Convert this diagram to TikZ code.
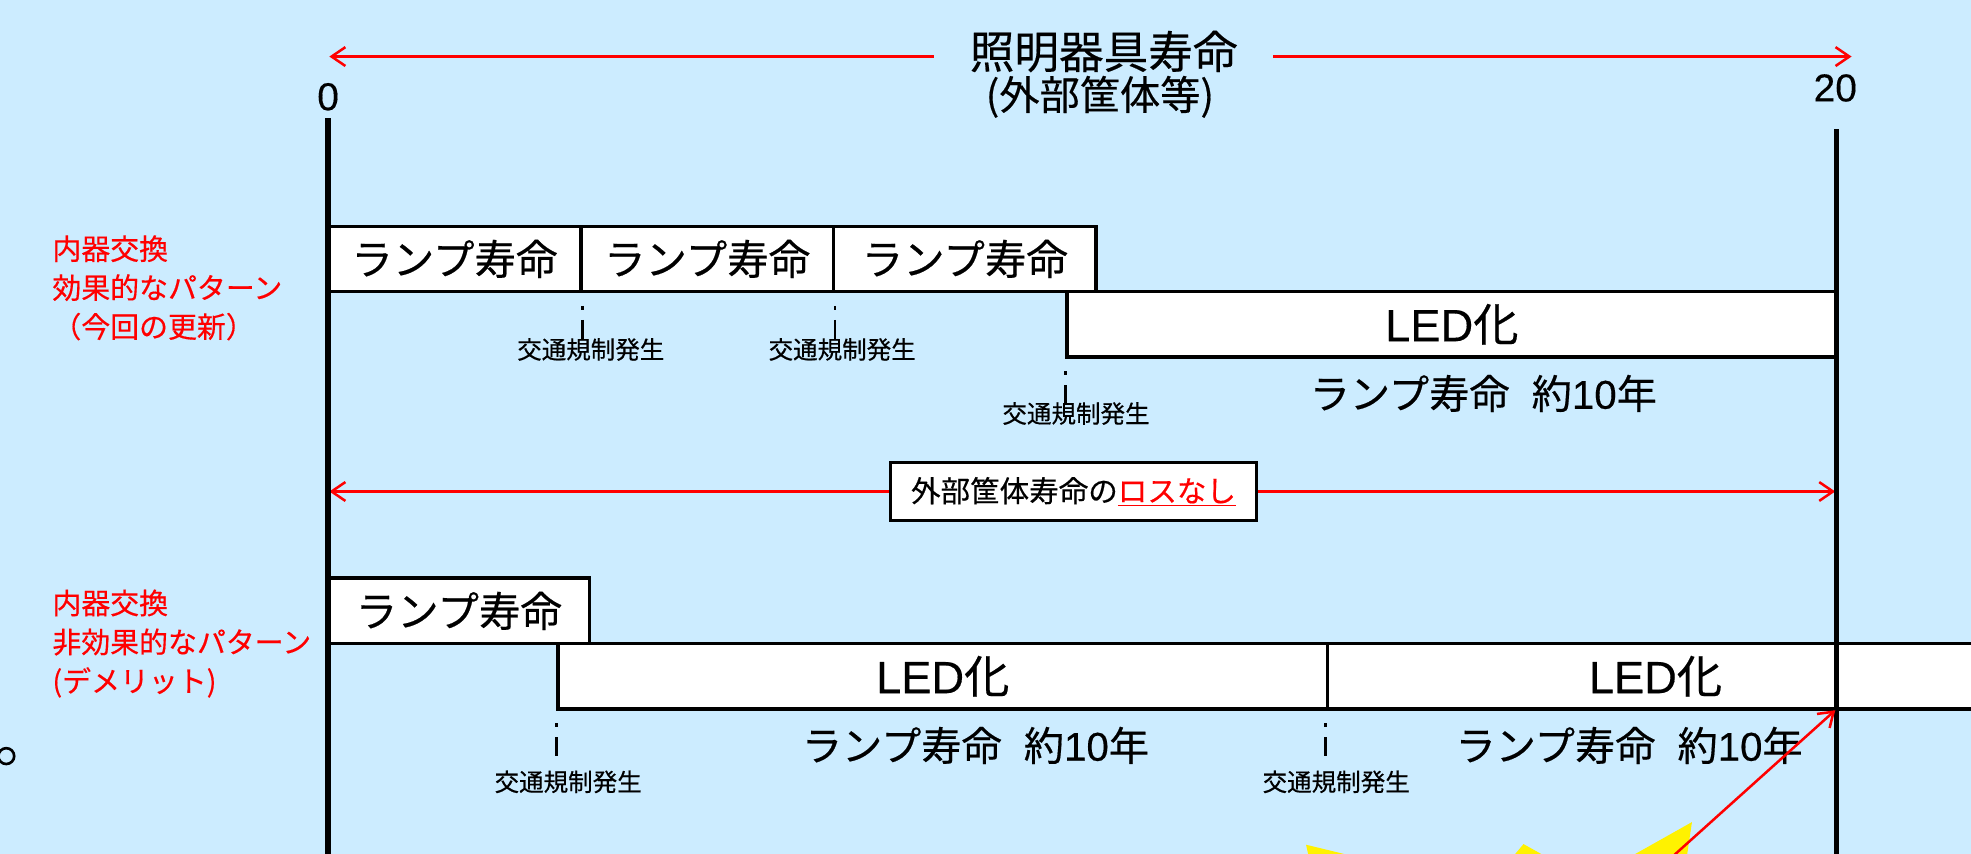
\documentclass[tikz,border=0pt]{standalone}
\usepackage{fontspec}
\setmainfont{Noto Sans CJK JP}[FakeBold=0.4]
\newfontfamily\latinfont{Liberation Sans}[FakeBold=0.3]
\usetikzlibrary{arrows.meta}
\definecolor{bgblue}{RGB}{204,236,255}
\definecolor{pured}{RGB}{255,0,0}
\begin{document}
\begin{tikzpicture}[x=1pt,y=-1pt,
  box/.style={draw=black, fill=white, line width=2.8pt, inner sep=0pt,
    font=\fontsize{33}{33}\selectfont},
  ledbox/.style={box, font=\fontsize{36}{36}\selectfont},
  subtxt/.style={inner sep=0pt, font=\fontsize{32}{32}\selectfont},
  smalltxt/.style={inner sep=0pt, font=\fontsize{19.5}{19.5}\selectfont},
  numtxt/.style={inner sep=0pt, font=\fontsize{31}{31}\selectfont\latinfont},
  titletxt/.style={inner sep=0pt, font=\fontsize{35.5}{35.5}\selectfont},
  title2txt/.style={inner sep=0pt, font=\fontsize{32}{32}\selectfont},
  redlab/.style={inner sep=0pt, anchor=west, align=left, text=pured,
    font=\fontsize{23}{31}\selectfont},
  axisline/.style={draw=black, line width=4.5pt},
  tickline/.style={draw=black, line width=2pt, dash pattern=on 3pt off 8pt on 15pt off 100pt},
  redarr/.style={draw=pured, line width=2pt, -{Straight Barb[length=11pt,width=15pt]}},
  lossbox/.style={draw=black, fill=white, line width=2pt, inner sep=0pt,
    minimum width=291, minimum height=46, font=\fontsize{23.5}{23.5}\selectfont}
]
\clip (0,0) rectangle (1568,679);
\fill[bgblue] (0,0) rectangle (1568,679);

% top title and arrow
\node[titletxt] (tt) at (878,41) {照明器具寿命};
\node[title2txt] (tt2) at (875,77) {(外部筐体等)};
\coordinate (tLs) at (743,45);
\coordinate (tL) at (262,45);
\coordinate (tRs) at (1013,45);
\coordinate (tR) at (1473,45);
\draw[redarr] (tLs) -- (tL);
\draw[redarr] (tRs) -- (tR);

% axis numbers
\node[numtxt] (n0) at (261,77) {0};
\node[numtxt] (n20) at (1460,70) {20};

% left labels
\node[redlab] (lab1) at (41.5,229) {内器交換\\効果的なパターン\\（今回の更新）};
\node[redlab] (lab2) at (41.5,512) {内器交換\\非効果的なパターン\\(デメリット)};

% row 1
\node[box, minimum width=201, minimum height=52] (r1a) at (361.5,206) {ランプ寿命};
\node[box, minimum width=201, minimum height=52] (r1b) at (562.5,206) {ランプ寿命};
\node[box, minimum width=209, minimum height=52] (r1c) at (767.5,206) {ランプ寿命};
\node[ledbox, minimum width=612, minimum height=52] (r1led) at (1155,258) {{\latinfont LED}化};
\node[subtxt] (s1) at (1180,313) {ランプ寿命\hspace{0.55em}約{\latinfont 10}年};

\draw[tickline] ([yshift=-10pt]r1a.south east) -- ++(0,26);
\draw[tickline] ([yshift=-10pt]r1b.south east) -- ++(0,26);
\draw[tickline] ([yshift=-10pt]r1led.south west) -- ++(0,26);
\node[smalltxt] (t1) at (470,278) {交通規制発生};
\node[smalltxt] (t2) at (670,278) {交通規制発生};
\node[smalltxt] (t3) at (856,329) {交通規制発生};

% middle arrow
\node[lossbox] (loss) at (854,391) {外部筐体寿命の\textcolor{pured}{\underline{ロスなし}}};
\coordinate (mL) at (262,391);
\coordinate (mR) at (1460,391);
\draw[redarr] (loss.west) -- (mL);
\draw[redarr] (loss.east) -- (mR);

% row 2
\node[box, minimum width=208, minimum height=52] (r2a) at (365,486) {ランプ寿命};
\node[ledbox, minimum width=612, minimum height=52] (r2led1) at (750,538) {{\latinfont LED}化};
\node[ledbox, minimum width=522, minimum height=52] (r2led2) at (1317,538) {{\latinfont LED}化};
\node[subtxt] (s2) at (776,593) {ランプ寿命\hspace{0.55em}約{\latinfont 10}年};
\node[subtxt] (s3) at (1296,593) {ランプ寿命\hspace{0.55em}約{\latinfont 10}年};

\draw[tickline] ([yshift=-10pt]r2led1.south west) -- ++(0,26);
\draw[tickline] ([yshift=-10pt]r2led2.south west) -- ++(0,26);
\node[smalltxt] (t4) at (452,622) {交通規制発生};
\node[smalltxt] (t5) at (1063,622) {交通規制発生};

% axes
\coordinate (a0top) at (261,94);
\coordinate (a0bot) at (261,682);
\coordinate (a20top) at (1461,103);
\coordinate (a20bot) at (1461,682);
\draw[axisline] (a0top) -- (a0bot);
\draw[axisline] (a20top) -- (a20bot);

% yellow burst tips
\fill[yellow] (1039,672) -- (1076,681) -- (1041,681) -- cycle;
\fill[yellow] (1212,671.5) -- (1229,681) -- (1204,681) -- cycle;
\fill[yellow] (1346,654) -- (1342,681) -- (1298,681) -- cycle;

% bottom red arrow
\coordinate (bs) at (1321,690);
\coordinate (bt) at (1460,565);
\draw[redarr] (bs) -- (bt);

% small ring at left edge
\draw[line width=2.1pt] (5,601.5) circle[radius=6.3];
\end{tikzpicture}
\end{document}
